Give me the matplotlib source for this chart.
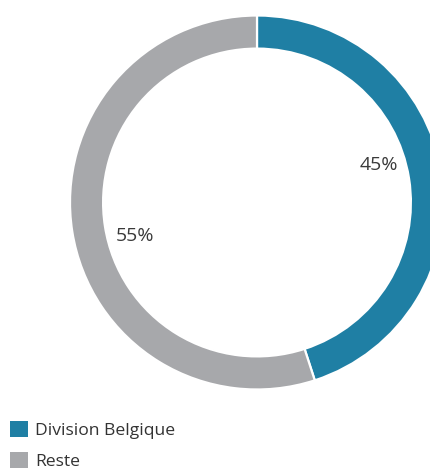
import matplotlib
matplotlib.use("Agg")
import matplotlib.pyplot as plt
from matplotlib.patches import Patch

# Data
labels = ['Division Belgique', 'Reste']
shares = [45, 55]
colors = ['#1f7fa4', '#a7a8ab']
pct_pos = [(0.65, 0.20), (-0.65, -0.18)]

plt.rcParams['font.family'] = ['Open Sans', 'DejaVu Sans']

W, H = 431, 472
fig = plt.figure(figsize=(W / 100, H / 100), dpi=100)

# donut: centre (257, 202) px, outer radius 187 px
cx, cy, R = 257, 202.5, 187
ax = fig.add_axes([(cx - R) / W, (H - cy - R) / H, 2 * R / W, 2 * R / H])
ax.pie(shares, colors=colors, startangle=90, counterclock=False, radius=1,
       wedgeprops=dict(width=0.177, edgecolor='white', linewidth=1.6))
ax.set_xlim(-1, 1)
ax.set_ylim(-1, 1)
ax.set_aspect('equal')
ax.axis('off')

for (x, y), v in zip(pct_pos, shares):
    ax.text(x, y, f'{v}%', ha='center', va='center', fontsize=14,
            color='#3a3a3a')

handles = [Patch(facecolor=c, edgecolor='none') for c in colors]
fig.legend(handles, labels, loc='lower left', bbox_to_anchor=(-0.005, -0.022),
           frameon=False, fontsize=12.6, handlelength=1.03, handleheight=1.03,
           handletextpad=0.4, labelspacing=0.75, labelcolor='#333333',
           borderaxespad=0.3)

fig.savefig('out.png', dpi=100)
